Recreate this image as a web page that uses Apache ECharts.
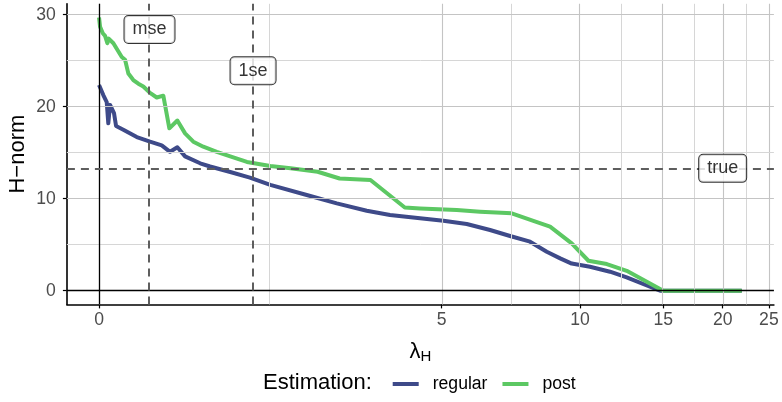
<!DOCTYPE html>
<html>
<head>
<meta charset="utf-8">
<script src="https://cdn.jsdelivr.net/npm/echarts@6/dist/echarts.min.js"></script>
<style>
  html, body { margin: 0; padding: 0; background: #fff; }
  #chart { width: 782px; height: 402px; }
</style>
</head>
<body>
<div id="chart"></div>
<script>
// H-norm along the lambda_H path, regular vs post estimation
const lambdaRegular = [0, 0.041, 0.074, 0.089, 0.106, 0.144, 0.164, 0.234, 0.365, 0.495, 0.612, 0.696, 0.771, 0.851,
  1.011, 1.119, 1.347, 1.581, 1.839, 2.346, 2.817, 3.346, 3.804, 4.466, 5.044, 5.687, 6.40, 7.075, 7.816, 8.49,
  9.07, 9.60, 10.50, 11.58, 12.56, 14.77, 21.93];
const hnormRegular = [22.36, 21.27, 20.5, 18.2, 20.2, 19.3, 17.9, 17.5, 16.7, 16.2, 15.8, 15.1, 15.6, 14.6,
  13.85, 13.5, 12.9, 12.3, 11.5, 10.4, 9.5, 8.7, 8.23, 7.87, 7.6, 7.25, 6.6, 5.95, 5.33, 4.24,
  3.52, 2.95, 2.6, 2.07, 1.45, 0, 0];

const lambdaPost = [0, 0.01, 0.036, 0.058, 0.080, 0.093, 0.138, 0.219, 0.251, 0.283, 0.331, 0.380, 0.429, 0.495,
  0.562, 0.628, 0.689, 0.771, 0.851, 0.938, 1.045, 1.194, 1.347, 1.545, 1.839, 2.113, 2.511, 2.865, 3.416,
  4.119, 4.466, 5.404, 6.085, 7.135, 7.945, 8.63, 9.60, 10.42, 11.40, 12.56, 15.0, 21.93];
const hnormPost = [29.7, 28.7, 27.98, 27.7, 26.9, 27.4, 26.9, 25.4, 25.1, 23.6, 22.9, 22.5, 22.2, 21.5,
  21.0, 21.2, 17.65, 18.5, 17.1, 16.2, 15.65, 15.1, 14.6, 14.0, 13.55, 13.3, 12.93, 12.2, 12.03,
  9.05, 8.95, 8.77, 8.59, 8.41, 7.6, 6.96, 5.15, 3.26, 2.9, 2.17, 0, 0];

// reference marks
const lambdaMse = 0.49;
const lambda1se = 1.62;
const hnormTrue = 13.3;
const refLabels = [
  { text: 'mse', lambda: 0.49, hnorm: 28.4 },
  { text: '1se', lambda: 1.62, hnorm: 23.9 },
  { text: 'true', lambda: 20, hnorm: 13.3 }
];

// axis breaks
const xMajorBreaks = [0, 5, 10, 15, 20, 25];
const yMajorBreaks = [0, 10, 20, 30];
const yMinorBreaks = [5, 15, 25];

// pseudo-log transform (sigma = 1)
const tr = x => Math.asinh(x / 2);
const inv = t => 2 * Math.sinh(t);

const xMajorT = xMajorBreaks.map(tr);
// minor breaks sit halfway between majors on the transformed scale
const xMinorT = [];
for (let i = 0; i < xMajorT.length - 1; i++) xMinorT.push((xMajorT[i] + xMajorT[i + 1]) / 2);

const pairs = (xs, ys) => xs.map((x, i) => [tr(x), ys[i]]);

const FONT = '"Liberation Sans", Arial, sans-serif';
const BLUE = '#3E4A89';
const GREEN = '#5CC863';

const chart = echarts.init(document.getElementById('chart'), null, { renderer: 'canvas' });

const gridLines = []
  .concat(xMajorT.map(v => ({ xAxis: v, lineStyle: { color: '#C4C4C4', width: 1.1, type: 'solid' } })))
  .concat(xMinorT.map(v => ({ xAxis: v, lineStyle: { color: '#D6D6D6', width: 1, type: 'solid' } })))
  .concat(yMajorBreaks.map(v => ({ yAxis: v, lineStyle: { color: '#C4C4C4', width: 1.1, type: 'solid' } })))
  .concat(yMinorBreaks.map(v => ({ yAxis: v, lineStyle: { color: '#D6D6D6', width: 1, type: 'solid' } })));

chart.setOption({
  animation: false,
  backgroundColor: '#fff',
  textStyle: { fontFamily: FONT },
  grid: { left: 66.9, top: 3.8, width: 707, height: 300.6, containLabel: false, outerBoundsMode: 'none' },
  xAxis: {
    type: 'value',
    min: tr(0) - 0.1545,
    max: 3.2445,
    name: '{l|λ}{s|H}',
    nameLocation: 'middle',
    nameGap: 36,
    nameTextStyle: {
      rich: {
        l: { fontSize: 22, color: '#000', fontFamily: FONT },
        s: { fontSize: 15, color: '#000', fontFamily: FONT, padding: [9, 0, 0, 0] }
      }
    },
    axisLine: { show: true, onZero: false, lineStyle: { color: '#000', width: 1.6 } },
    axisTick: { show: true, customValues: xMajorT, length: 4, lineStyle: { color: '#000', width: 1.2 } },
    axisLabel: {
      customValues: xMajorT,
      formatter: v => String(Math.round(inv(v))),
      color: '#4D4D4D', fontSize: 17.6, margin: 7, fontFamily: FONT
    },
    splitLine: { show: false }
  },
  yAxis: {
    type: 'value',
    min: -1.485,
    max: 31.185,
    name: 'H\u2212norm',
    nameLocation: 'middle',
    nameRotate: 90,
    nameGap: 38,
    nameMoveOverlap: false,
    nameTextStyle: { fontSize: 22, color: '#000', fontFamily: FONT },
    axisLine: { show: true, onZero: false, lineStyle: { color: '#000', width: 1.6 } },
    axisTick: { show: true, customValues: yMajorBreaks, length: 4, lineStyle: { color: '#000', width: 1.2 } },
    axisLabel: { customValues: yMajorBreaks, color: '#4D4D4D', fontSize: 17.6, margin: 11, fontFamily: FONT },
    splitLine: { show: false }
  },
  title: {
    text: 'Estimation:',
    left: 258, top: 367,
    textStyle: { fontSize: 22, fontWeight: 'normal', color: '#000', fontFamily: FONT }
  },
  legend: {
    data: ['regular', 'post'],
    left: 387.7, top: 370,
    icon: 'rect',
    itemWidth: 26, itemHeight: 4,
    itemGap: 15,
    textStyle: { fontSize: 17.6, color: '#000', fontFamily: FONT, padding: [0, 0, 0, 9] }
  },
  series: [
    {
      name: 'grid',
      type: 'line',
      data: [],
      z: 0,
      silent: true,
      markLine: { silent: true, symbol: 'none', label: { show: false }, animation: false, data: gridLines }
    },
    {
      name: 'zero',
      type: 'line',
      data: [],
      z: 1,
      silent: true,
      markLine: {
        silent: true, symbol: 'none', label: { show: false }, animation: false,
        lineStyle: { color: '#000', width: 1.3, type: 'solid' },
        data: [{ xAxis: tr(0) }, { yAxis: 0 }]
      }
    },
    {
      name: 'refs',
      type: 'line',
      data: [],
      z: 1,
      silent: true,
      markLine: {
        silent: true, symbol: 'none', label: { show: false }, animation: false,
        lineStyle: { color: '#5E5E5E', width: 2, type: [8, 6] },
        data: [{ xAxis: tr(lambdaMse) }, { xAxis: tr(lambda1se) }, { yAxis: hnormTrue }]
      }
    },
    {
      name: 'regular',
      type: 'line',
      data: pairs(lambdaRegular, hnormRegular),
      showSymbol: false,
      z: 3,
      lineStyle: { color: BLUE, width: 4, join: 'round' },
      itemStyle: { color: BLUE }
    },
    {
      name: 'post',
      type: 'line',
      data: pairs(lambdaPost, hnormPost),
      showSymbol: false,
      z: 4,
      lineStyle: { color: GREEN, width: 4, join: 'round' },
      itemStyle: { color: GREEN }
    },
    {
      name: 'labels',
      type: 'scatter',
      z: 5,
      symbolSize: 1,
      itemStyle: { color: 'rgba(0,0,0,0)' },
      data: refLabels.map(d => ({ name: d.text, value: [tr(d.lambda), d.hnorm] })),
      label: {
        show: true,
        position: 'inside',
        formatter: '{b}',
        fontSize: 18,
        lineHeight: 18,
        color: '#000',
        fontFamily: FONT,
        backgroundColor: '#fff',
        borderColor: '#000',
        borderWidth: 1,
        borderRadius: 4,
        padding: [5, 8, 4, 8]
      }
    }
  ]
});
</script>
</body>
</html>
